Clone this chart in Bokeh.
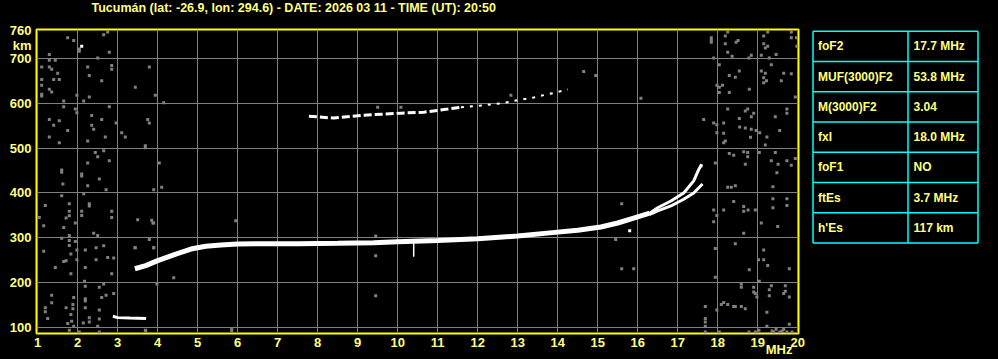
from bokeh.plotting import figure
from bokeh.models import Range1d, FixedTicker, Title
from bokeh.layouts import row
from bokeh.embed import file_html
from bokeh.resources import INLINE
from bokeh.core.properties import value

# ---------------- data ----------------
title_text = "Tucumán (lat: -26.9, lon: 294.6) - DATE: 2026 03 11 - TIME (UT): 20:50"
freq_ticks = list(range(1, 21))
height_grid = [100, 200, 300, 400, 500, 600, 700]
top_label_pos = 745          # where the "760 / km" label block sits
unit_x = "MHz"

# F-layer trace (common part)
f_main = [3.43, 3.7, 4.0, 4.4, 4.83, 5.2, 5.58, 6.0, 6.75, 7.5, 8.5, 9.4, 10.0, 11.0, 12.0, 13.0, 13.8, 14.5, 15.08, 15.5, 15.9, 16.3]
h_main = [231, 238, 249, 262, 275, 281, 284, 286, 287, 287, 288, 289, 291, 294, 298, 304, 311, 317, 324, 333, 344, 355]
# two branches near the critical frequency
f_branch_a = [16.3, 16.5, 16.83, 17.15, 17.4, 17.53, 17.6]
h_branch_a = [355, 367, 382, 400, 427, 453, 464]
f_branch_b = [16.3, 16.5, 16.83, 17.15, 17.4, 17.62]
h_branch_b = [352, 360, 371, 386, 400, 420]
# second-hop trace
f_hop2 = [7.78, 8.4, 9.08, 10.08, 10.65, 11.25, 11.58]
h_hop2 = [571, 567, 573, 578, 580, 587, 591]
f_hop2_weak = [11.58, 12.0, 12.58, 13.4, 14.0, 14.25]
h_hop2_weak = [591, 594, 600, 613, 625, 631]
# sporadic E trace
f_es = [2.88, 3.0, 3.3, 3.71]
h_es = [125, 122, 121, 120]
# vertical spike
f_spike = [10.4, 10.4]
h_spike = [291, 258]

noise_points = [
    (1.75,746),(1.90,740),(2.65,753),(2.75,759),(2.04,721),(2.04,716),(2.79,714),(2.50,701),(1.29,709),(1.29,696),
    (1.44,696),(1.10,681),(1.29,681),(1.35,676),(1.50,667),(2.25,681),(2.85,684),(2.85,676),(3.79,681),(2.29,662),
    (1.10,653),(1.40,653),(1.54,653),(2.60,650),(1.10,640),(1.29,631),(1.35,625),(1.10,620),(1.10,616),(3.44,636),
    (3.94,618),(1.98,618),(2.29,614),(1.65,605),(2.15,605),(4.15,601),(1.65,592),(2.79,592),(1.94,587),(1.98,579),
    (2.35,573),(1.29,564),(1.54,561),(2.60,564),(1.40,551),(2.35,551),(2.96,556),(3.75,564),(3.79,556),(1.75,539),
    (2.40,542),(3.10,534),(1.29,525),(2.69,525),(3.19,525),(2.25,516),(1.54,512),(3.69,505),(3.69,501),(2.44,490),
    (2.65,494),(2.50,481),(2.79,472),(2.25,467),(4.04,467),(1.60,451),(1.60,446),(2.10,442),(2.10,438),(2.54,431),
    (1.63,420),(2.25,416),(2.71,407),(3.9,407),(4.1,413),(1.6,394),(2.15,398),(1.19,372),(1.79,376),(2.29,376),
    (2.29,371),(1.79,359),(1.79,349),(1.71,344),(2.1,359),(2.1,350),(2.85,359),(2.85,345),(1.04,345),(1.94,333),
    (1.65,323),(1.15,327),(3.5,340),(3.85,339),(3.9,333),(2.4,310),(1.79,305),(2.5,305),(1.6,299),(1.79,294),
    (1.94,292),(3.79,296),(2.65,282),(2.46,278),(1.79,283),(2.19,273),(1.15,270),(3.44,278),(3.9,278),(1.98,273),
    (1.83,264),(2.9,255),(2.75,256),(2.46,251),(1.98,251),(1.71,249),(1.65,247),(1.44,234),(2.19,234),(2.85,220),
    (1.83,220),(2.17,203),(2.19,192),(2.54,190),(2.65,197),(3.98,197),(1.35,172),(1.9,167),(2.71,172),(2.9,176),
    (2.6,167),(2.19,164),(2.19,159),(1.35,155),(1.88,151),(1.19,144),(1.19,135),(1.71,144),(1.88,142),(2.19,144),
    (2.54,139),(1.83,129),(2.29,122),(2.54,119),(1.25,120),(1.85,114),(1.75,109),(2.14,110),(2.29,112),(1.9,103),
    (2.5,103),(1.79,94),(2.04,90),(2.54,90),(3.69,94),
    (9.5,591),(10.08,591),(12.83,618),(14.65,671),(14.95,662),(15.6,376),(15.45,296),(15.6,231),(15.9,231),(5.95,338),
    (3.88,333),(9.45,304),(9.45,260),(9.45,171),(4.4,211),(5.85,98),(3.43,278),(3.9,278),(3.7,93),(5.85,93),(16.08,611),
    (17.84,746),(17.84,740),(17.84,736),(18.19,750),(18.25,759),(18.19,733),(18.46,736),(18.51,740),(19.15,750),(19.15,733),
    (19.25,759),(19.84,759),(19.84,746),(19.97,746),(19.25,727),(19.19,723),(19.98,727),(19.46,709),(19.09,707),(18.84,707),
    (18.36,705),(18.25,714),(17.9,701),(18.78,701),(19.29,701),(18.04,686),(19.34,686),(19.09,672),(19.19,667),(18.54,672),
    (19.65,667),(19.84,666),(18.29,662),(18.44,658),(19.15,657),(19.15,646),(19.22,650),(19.59,650),(17.98,640),(18.12,640),
    (18.04,636),(18.79,631),(18.04,624),(18.29,624),(19.94,614),(18.25,587),(18.69,583),(18.75,587),(18.9,578),(18.84,570),
    (18.54,566),(17.65,564),(17.9,556),(18.15,556),(17.98,552),(18.69,545),(18.55,547),(18.84,542),(18.96,539),(19.05,534),
    (17.98,534),(18.15,533),(19.55,539),(18.82,524),(19.23,525),(18.19,516),(18.15,512),(19.44,570),(19.73,587),(19.73,578),
    (19.19,507),(18.29,488),(18.65,492),(18.75,490),(18.4,484),(18.75,481),(19.04,490),(19.44,490),(17.94,467),(17.59,460),
    (18.69,464),(19.34,472),(19.51,464),(19.73,472),(19.84,462),(19.94,477),(19.48,445),
    (18.25,413),(18.34,413),(18.44,416),(19.38,414),(19.38,387),(19.73,387),(19.73,372),(17.9,362),(18.15,362),(18.4,381),
    (18.65,370),(18.65,359),(18.76,362),(18.94,362),(19.38,367),(17.9,336),(17.98,350),(19.09,333),(19.5,325),(18.65,310),
    (18.44,287),(17.94,276),(19.15,273),(19.02,251),(19.15,251),(19.25,238),(19.79,231),(18.79,229),(17.94,212),(19.04,203),
    (18.59,197),(18.59,190),(18.9,190),(18.9,179),(18.94,176),(19.34,193),(19.69,193),(19.29,184),(19.69,181),(19.65,176),
    (19.29,171),(19.79,168),(18.98,168),(18.15,156),(18.09,151),(18.25,151),(18.4,147),(18.44,147),(18.59,147),(18.69,142),
    (17.69,147),(17.98,139),(19.23,134),(17.69,120),(17.69,112),(17.69,103),(19.79,107),(19.23,103),(19.46,96),(19.36,92),
    (19.61,92),(19.65,96),(19.73,90),(19.86,90),(18.04,90),(17.69,90),(18.78,90),(18.94,90),(19.03,94),(19.55,90),(19.4,90),
]
noise_f = [p[0] for p in noise_points]
noise_h = [p[1] for p in noise_points]
white_dots_f = [2.10, 15.8]
white_dots_h = [727, 316]

table_labels = ["foF2", "MUF(3000)F2", "M(3000)F2", "fxI", "foF1", "ftEs", "h'Es"]
table_values = ["17.7 MHz", "53.8 MHz", "3.04", "18.0 MHz", "NO", "3.7 MHz", "117 km"]

# ---------------- styles ----------------
FONT = "Liberation Sans"
TXT = "#ffff80"
FRAME = "#ffff00"
GRID = "#808080"
NBSP = "\u00a0"

p = figure(width=806, height=359, x_range=Range1d(0.97, 20.02), y_range=Range1d(86.6, 764.5),
           output_backend="svg", toolbar_location=None,
           min_border_left=36, min_border_right=8, min_border_top=29, min_border_bottom=26,
           background_fill_color="black", border_fill_color="black")
p.outline_line_color = FRAME
p.outline_line_width = 2

p.title.text = title_text + "\n" + NBSP
p.title.text_color = TXT
p.title.text_font = FONT
p.title.text_font_style = "bold"
p.title.text_font_size = "12.5px"
p.title.align = "left"
p.title.offset = 55
p.title.standoff = -2
p.title.vertical_align = "top"


def style_axis(ax):
    ax.axis_line_color = None
    ax.major_tick_line_color = None
    ax.minor_tick_line_color = None
    ax.major_tick_out = 0
    ax.major_tick_in = 0
    ax.minor_tick_out = 0
    ax.minor_tick_in = 0
    ax.major_label_text_color = TXT
    ax.major_label_text_font = FONT
    ax.major_label_text_font_style = "bold"
    ax.major_label_text_font_size = "13px"


style_axis(p.xaxis[0])
style_axis(p.yaxis[0])

p.xaxis[0].ticker = FixedTicker(ticks=freq_ticks)
p.xaxis[0].major_label_overrides = {t: str(t) for t in freq_ticks}
p.xaxis[0].major_label_standoff = 4

# frequency unit, tucked under the end of the axis
unit_title = Title(text=unit_x, align="right", offset=6, standoff=-15, vertical_align="top",
                   text_color=TXT, text_font=FONT, text_font_style="bold", text_font_size="13px")
p.add_layout(unit_title, "below")

y_ticks = height_grid + [top_label_pos]
y_labels = {t: str(t) for t in height_grid}
y_labels[top_label_pos] = "760\nkm"
p.yaxis[0].ticker = FixedTicker(ticks=y_ticks)
p.yaxis[0].major_label_overrides = y_labels
p.yaxis[0].major_label_standoff = 5
p.yaxis[0].major_label_text_line_height = 1.0

p.xgrid[0].ticker = FixedTicker(ticks=freq_ticks)
p.ygrid[0].ticker = FixedTicker(ticks=height_grid)
for g in (p.xgrid[0], p.ygrid[0]):
    g.grid_line_color = GRID
    g.grid_line_width = 1

p.scatter(noise_f, noise_h, marker="square", size=3, color=GRID, line_color=None)
p.scatter(white_dots_f, white_dots_h, marker="square", size=3, color="white", line_color=None)

p.line(f_main, h_main, line_width=5, color="white")
p.line(f_branch_a, h_branch_a, line_width=3, color="white")
p.line(f_branch_b, h_branch_b, line_width=3, color="white")
p.line(f_hop2, h_hop2, line_width=3, color="white", line_dash="8 3")
p.line(f_hop2_weak, h_hop2_weak, line_width=2, color="white", line_dash="3 6")
p.line(f_es, h_es, line_width=3, color="white")
p.line(f_spike, h_spike, line_width=1.5, color="white")

# ---------------- table ----------------
tf = figure(width=192, height=359, x_range=Range1d(806, 998), y_range=Range1d(333, 29),
            output_backend="svg", toolbar_location=None,
            min_border_left=0, min_border_right=0, min_border_top=29, min_border_bottom=26,
            x_axis_location=None, y_axis_location=None,
            background_fill_color="black", border_fill_color="black")
tf.outline_line_color = None
tf.grid.visible = False

n = len(table_labels)
t_left, t_right, t_mid, t_top, row_h = 812.5, 977.5, 907.5, 30.7, 30.27
row_y = [t_top + i * row_h for i in range(n + 1)]
tf.segment(x0=[t_left] * (n + 1), y0=row_y, x1=[t_right] * (n + 1), y1=row_y, line_color="#00ffff", line_width=1.5)
tf.segment(x0=[t_left, t_mid, t_right], y0=[row_y[0]] * 3, x1=[t_left, t_mid, t_right], y1=[row_y[-1]] * 3,
           line_color="#00ffff", line_width=1.5)
centers = [t_top + (i + 0.5) * row_h for i in range(n)]
tf.text(x=[t_left + 5] * n, y=centers, text=table_labels, text_color=TXT, text_font=value(FONT),
        text_font_style="bold", text_font_size="12px", text_baseline="middle")
tf.text(x=[t_mid + 5.5] * n, y=centers, text=table_values, text_color=TXT, text_font=value(FONT),
        text_font_style="bold", text_font_size="12px", text_baseline="middle")

layout = row(p, tf, spacing=0)
html = file_html(layout, INLINE)
html = html.replace("<body>", '<body style="margin:0;background:black;">')
open("out.html", "w").write(html)
